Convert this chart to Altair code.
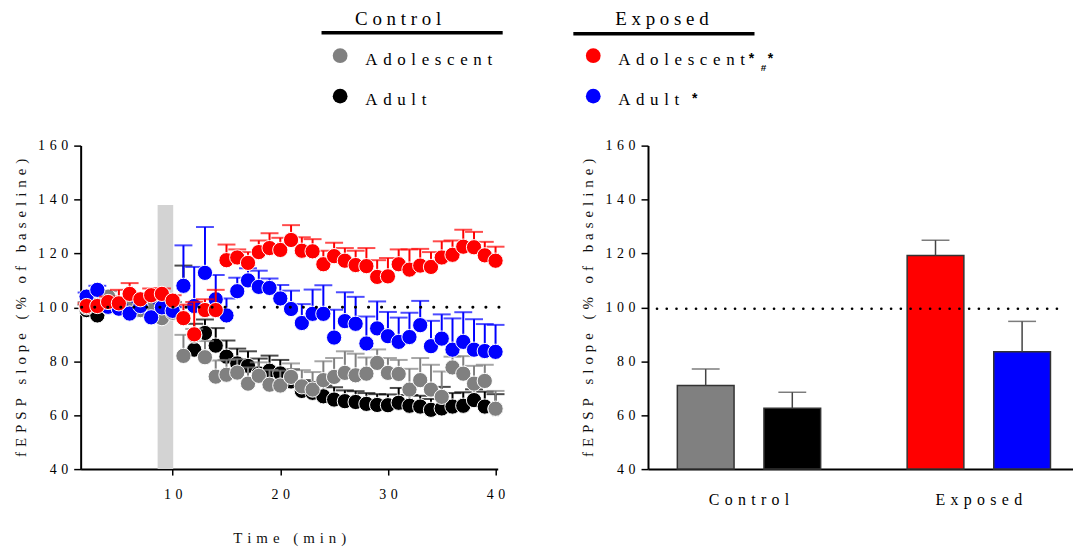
import altair as alt
import pandas as pd

# ---------------- data ----------------
times = list(range(2, 41))

# Control adolescent (grey)
ctrl_adol = [100, 101, 104, 101, 100, 99, 100, 96, 98,
             82, 89.5, 81.5, 74.3, 75, 75.8, 71.7, 74.6, 71.3, 71,
             74.2, 70.7, 69.5, 73, 74.2, 75.7, 74.8, 75.4, 79.4, 75.7,
             75.3, 69.5, 73, 69.5, 66.8, 77.7, 75.4, 71.7, 72.7, 62.4]
ctrl_adol_err = [2, 2, 2, 2, 2, 2, 2, 2, 2,
                 7.8, 2.5, 6, 6, 5.5, 5, 6, 5, 5.5, 5.5,
                 5, 6, 6.5, 7, 7, 8, 8, 6, 5, 5.5,
                 5.2, 7.7, 8.2, 9.2, 9.4, 4, 6.5, 6.6, 6, 6.6]

# Control adult (black)
ctrl_adult = [99, 97, 100, 100, 101, 99, 100, 99, 100,
              108, 84.3, 90.5, 85.8, 81.7, 79.2, 78.3, 75.5, 76.5, 75.5,
              72.5, 69, 68.3, 67, 65.8, 65.2, 64.9, 64.2, 63.8, 63.7,
              64.6, 63.5, 63.2, 62, 62.5, 63.2, 63.5, 65.6, 63.2, 62.3]
ctrl_adult_err = [2, 2, 2, 2, 2, 2, 2, 2, 2,
                  7.5, 9.6, 5, 6.5, 6, 5.5, 5.4, 5.5, 5.6, 5,
                  4.5, 4, 4, 4, 4.6, 4, 4, 4, 4, 4,
                  5.5, 4, 4, 4, 8, 5, 5, 4, 5.5, 5.5]

# Exposed adolescent (red)
exp_adol = [100.5, 100.5, 102, 101.5, 105, 103, 104.5, 105, 102.5,
            96, 90, 99, 99, 117.5, 118.5, 116.5, 120.5, 122, 121.3,
            125, 121, 120.8, 116, 119, 117.3, 115.7, 115.3, 111.3, 111.5,
            116, 114, 115.5, 115, 118.5, 119.5, 122.5, 122.3, 119.3, 117.3]
exp_adol_err = [1, 1.5, 2, 5, 4, 2, 2.5, 2, 2,
                5, 12, 4, 7.5, 5.8, 3, 4, 4.3, 5.5, 4.5,
                5.5, 5, 4.5, 5, 5, 4.7, 5.3, 6.7, 6.2, 6.8,
                5.5, 7.5, 6.2, 5.5, 6, 5.3, 6.3, 5.7, 5, 5.2]

# Exposed adult (blue)
exp_adult = [104, 106.5, 100.2, 99.5, 97.7, 100.5, 96.3, 100, 98.7,
             108, 100.5, 112.8, 103, 97, 106, 110, 107.6, 107.2, 103.3,
             99.4, 94.2, 97.6, 97.6, 88.8, 94.9, 93.9, 86.6, 92.2, 89.3,
             87.2, 89, 93.4, 85.6, 88.4, 84.3, 87.2, 84.3, 83.8, 83.5]
exp_adult_err = [1.5, 1.5, 1.5, 1.5, 1.5, 1.5, 1.5, 1.5, 1.5,
                 15, 14.5, 17, 9, 6.3, 5, 4.5, 6, 3.5, 5,
                 6.8, 7, 9, 10.6, 10.3, 10.7, 10, 10, 10, 9,
                 9, 9, 9, 9.4, 9, 11.6, 11, 11.3, 10, 10]

stim_window = [8.6, 10.05]
stim_range = [40, 138]
baseline = [100]
bar_baseline = [99.5]

x_ticks = [10, 20, 30, 40]
y_ticks = [40, 60, 80, 100, 120, 140, 160]

bar_groups = ["Control", "Control", "Exposed", "Exposed"]
bar_ages = ["Adolescent", "Adult", "Adolescent", "Adult"]
bar_means = [71.0, 62.6, 119.2, 83.5]
bar_sems = [6.1, 5.9, 5.7, 11.3]
bar_keys = ["Control Adolescent", "Control Adult", "Exposed Adolescent", "Exposed Adult"]
bar_colors = ["#808080", "#000000", "#ff0000", "#0000ff"]

legend_groups = ["Control", "Exposed"]
legend_ages = ["Adolescent", "Adult"]

SERIF = "Liberation Serif"
G3 = "\u2004"   # 1/3 em space
G4 = "\u2005"   # 1/4 em space


def sp(s, gap=G3):
    return gap.join(list(s))


# ---------------- left: time course ----------------
xs = alt.Scale(domain=[1.45, 40.2], nice=False, zero=False)
ys = alt.Scale(domain=[40, 160], nice=False, zero=False)
y_title = sp("fEPSP slope (% of baseline)")
tick_expr = "join(split(datum.label, ''), '" + G3 + "')"

x_axis = alt.Axis(values=x_ticks, title=sp("Time (min)"), labelExpr=tick_expr,
                  labelPadding=13, titlePadding=29, tickSize=6)
y_axis = alt.Axis(values=y_ticks, title=y_title, labelExpr=tick_expr,
                  labelPadding=6, titlePadding=9, tickSize=7)


def X(f):
    return alt.X(f, type="quantitative", scale=xs, axis=x_axis)


def Y(f):
    return alt.Y(f, type="quantitative", scale=ys, axis=y_axis)


stim_df = pd.DataFrame({"x0": [stim_window[0]], "x1": [stim_window[1]],
                        "y0": [stim_range[0]], "y1": [stim_range[1]]})
stim = alt.Chart(stim_df).mark_rect(color="#d3d3d3").encode(
    x=X("x0"), x2="x1", y=Y("y0"), y2="y1")

dot_df = pd.DataFrame({"b": baseline})
dotted_left = alt.Chart(dot_df).mark_rule(
    color="black", strokeWidth=3, strokeDash=[0.1, 13], strokeCap="round"
).encode(y=Y("b"), x=alt.value(1), x2=alt.value(430))

series = [
    (ctrl_adult, ctrl_adult_err, "#000000"),
    (ctrl_adol, ctrl_adol_err, "#808080"),
    (exp_adult, exp_adult_err, "#0000ff"),
    (exp_adol, exp_adol_err, "#ff0000"),
]

left_layers = [stim]
for vals, errs, col in series:
    df = pd.DataFrame({"t": times, "v": vals, "e": errs})
    base = alt.Chart(df).transform_calculate(top="datum.v + datum.e")
    rule = base.mark_rule(color=col, strokeWidth=2).encode(x=X("t"), y=Y("v"), y2="top:Q")
    cap = base.mark_tick(color=col, orient="horizontal", size=18, thickness=2).encode(
        x=X("t"), y=Y("top:Q"))
    pts = base.mark_circle(size=235, opacity=1, color=col, stroke="white", strokeWidth=1).encode(
        x=X("t"), y=Y("v"))
    left_layers += [rule, cap, pts]
left_layers.append(dotted_left)

# legend (positions relative to the left plot origin)
one = pd.DataFrame({"k": [0]})


def txt(text, x, y, size, align="left", weight="normal", font=SERIF):
    return alt.Chart(one).mark_text(text=text, align=align, baseline="alphabetic",
                                    fontSize=size, fontWeight=weight, font=font,
                                    color="black").encode(x=alt.value(x), y=alt.value(y))


def hline(x1, x2, y):
    return alt.Chart(one).mark_rule(color="black", strokeWidth=3.5).encode(
        x=alt.value(x1), x2=alt.value(x2), y=alt.value(y))


def dot(x, y, col):
    return alt.Chart(one).mark_circle(size=220, opacity=1, color=col).encode(
        x=alt.value(x), y=alt.value(y))


legend_layers = [
    txt(sp(legend_groups[0], G4), 319, -121.5, 19, align="center"),
    hline(242, 424, -113.5),
    txt(sp(legend_groups[1], G4), 584, -121.5, 19, align="center"),
    hline(495, 677, -112.3),
    dot(260.7, -90.3, bar_colors[0]),
    txt(sp(legend_ages[0]), 286, -80.5, 17),
    dot(260.7, -49.7, bar_colors[1]),
    txt(sp(legend_ages[1]), 286, -40.5, 17),
    dot(515, -90.3, bar_colors[2]),
    txt(sp(legend_ages[0]), 540, -80.5, 17),
    txt("*", 674, -83, 14, align="center", weight="bold", font="Liberation Sans"),
    txt("*", 693, -83, 14, align="center", weight="bold", font="Liberation Sans"),
    txt("#", 686, -75, 10, align="center", weight="bold", font="Liberation Sans"),
    dot(515, -49.7, bar_colors[3]),
    txt(sp(legend_ages[1]), 540, -40.5, 17),
    txt("*", 617, -43, 14, align="center", weight="bold", font="Liberation Sans"),
]

left = alt.layer(*(left_layers + legend_layers)).properties(width=419, height=325)

# ---------------- right: bar summary ----------------
bar_df = pd.DataFrame({"group": bar_groups, "age": bar_ages, "mean": bar_means,
                       "sem": bar_sems, "key": bar_keys})
bx_scale = alt.Scale(paddingInner=0.2, paddingOuter=0.0247, align=0.8)
bo_scale = alt.Scale(paddingInner=0.345, paddingOuter=0.234)
bx_axis = alt.Axis(title=None, labelExpr="join(split(datum.label, ''), '" + G3 + "')",
                   labelAngle=0, ticks=False, labelPadding=23, labelFontSize=16)
by_axis = alt.Axis(values=y_ticks, title=y_title, labelExpr=tick_expr,
                   labelPadding=6, titlePadding=9, tickSize=7)


def BX():
    return alt.X("group:N", scale=bx_scale, axis=bx_axis, sort=legend_groups)


def BO():
    return alt.XOffset("age:N", scale=bo_scale, sort=legend_ages)


def BY(f):
    return alt.Y(f, type="quantitative", scale=ys, axis=by_axis)


bbase = alt.Chart(bar_df).transform_calculate(top="datum.mean + datum.sem")
bars = bbase.mark_bar(stroke="#333333", strokeWidth=1.5).encode(
    x=BX(), xOffset=BO(), y=BY("mean"), y2=alt.datum(40),
    color=alt.Color("key:N", scale=alt.Scale(domain=bar_keys, range=bar_colors), legend=None))
b_rule = bbase.mark_rule(color="#444444", strokeWidth=1.5).encode(
    x=BX(), xOffset=BO(), y=BY("mean"), y2="top:Q")
b_cap = bbase.mark_tick(color="#444444", orient="horizontal", size=28, thickness=1.5).encode(
    x=BX(), xOffset=BO(), y=BY("top:Q"))
dot_df2 = pd.DataFrame({"b": bar_baseline})
dotted_right = alt.Chart(dot_df2).mark_rule(
    color="black", strokeWidth=2.6, strokeDash=[0.1, 9.7], strokeCap="round"
).encode(y=BY("b"), x=alt.value(9), x2=alt.value(412))

right = alt.layer(bars, b_rule, b_cap, dotted_right).properties(width=427, height=325)

chart = alt.hconcat(left, right, spacing=151, bounds="flush").properties(
    padding={"left": 5, "top": 0, "right": 0, "bottom": 0}
).configure_view(stroke=None).configure_axis(
    grid=False, domainColor="black", domainWidth=2, tickColor="black", tickWidth=1.5,
    labelColor="black", labelFont=SERIF, labelFontSize=14,
    titleColor="#111111", titleFont=SERIF, titleFontSize=15, titleFontWeight="normal"
)

chart.save("out.html", embed_options={"renderer": "svg", "actions": False})
